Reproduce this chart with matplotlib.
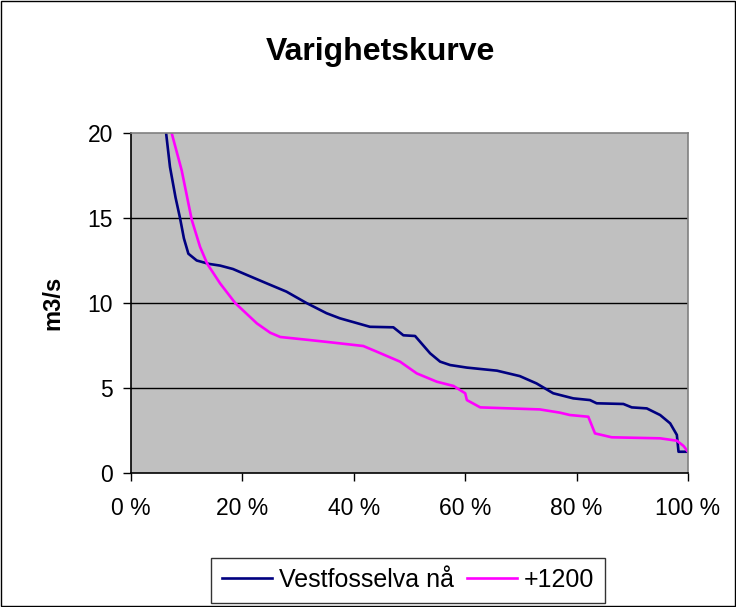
import matplotlib
matplotlib.use("Agg")
import matplotlib.pyplot as plt
from matplotlib.patches import Rectangle

plt.rcParams['font.family'] = ['Liberation Sans', 'DejaVu Sans']

title = "Varighetskurve"
ylabel = "m3/s"
series_names = ["Vestfosselva nå", "+1200"]
xticks = [0, 20, 40, 60, 80, 100]
xtick_labels = ["0 %", "20 %", "40 %", "60 %", "80 %", "100 %"]
yticks = [0, 5, 10, 15, 20]

vest_x = [6.3, 7.0, 8.0, 8.8, 9.5, 10.3, 11.8, 14.0, 16.0, 18.3, 20.8, 24.4, 27.9, 31.5, 35.1,
          37.5, 42.9, 47.1, 48.9, 51.0, 53.7, 55.5, 57.3, 60.3, 65.7, 69.8, 72.8, 75.8, 79.4,
          82.4, 83.6, 88.4, 89.9, 92.6, 95.0, 96.8, 98.0, 98.3, 99.8]
vest_y = [20.0, 18.0, 16.2, 15.0, 13.8, 12.9, 12.5, 12.3, 12.2, 12.0, 11.65, 11.15, 10.67, 10.0, 9.4,
          9.1, 8.6, 8.57, 8.1, 8.06, 7.04, 6.55, 6.35, 6.2, 6.02, 5.7, 5.27, 4.69, 4.39,
          4.29, 4.1, 4.06, 3.86, 3.8, 3.41, 2.92, 2.24, 1.25, 1.25]

plus_x = [7.3, 9.1, 10.9, 12.4, 13.7, 16.0, 18.7, 22.6, 25.0, 26.8, 32.1, 36.3, 41.7, 44.1, 48.3,
          51.3, 54.9, 57.9, 60.0, 60.3, 62.7, 68.0, 73.4, 77.0, 78.8, 82.1, 82.7, 83.3, 86.3,
          95.0, 98.0, 99.2, 100.0]
plus_y = [20.0, 17.8, 14.9, 13.3, 12.3, 11.15, 10.0, 8.8, 8.25, 8.0, 7.82, 7.67, 7.47, 7.14, 6.55,
          5.86, 5.37, 5.12, 4.69, 4.29, 3.86, 3.8, 3.74, 3.55, 3.41, 3.31, 2.82, 2.33, 2.1,
          2.04, 1.9, 1.59, 1.25]

fig = plt.figure(figsize=(7.36, 6.07), dpi=100)
fig.patch.set_facecolor('white')
fig.patches.append(Rectangle((0.002, 0.002), 0.996, 0.996, transform=fig.transFigure,
                             fill=False, edgecolor='black', linewidth=1.0))

ax = fig.add_axes([131/736, 1-473/607, (688-131)/736, (473-133)/607])
ax.set_facecolor('#C0C0C0')
ax.plot(vest_x, vest_y, color='#000080', linewidth=1.9, label=series_names[0])
ax.plot(plus_x, plus_y, color='#FF00FF', linewidth=1.9, label=series_names[1])

ax.set_xlim(0, 100)
ax.set_ylim(0, 20)
ax.set_xticks(xticks)
ax.set_xticklabels(xtick_labels)
ax.set_yticks(yticks)
ax.tick_params(axis='both', direction='out', length=6, width=1, labelsize=16.5)
ax.tick_params(axis='x', pad=11.5)
ax.tick_params(axis='y', pad=7)
for y in [5, 10, 15]:
    ax.axhline(y, color='black', linewidth=1.0, zorder=1)
ax.spines['left'].set_color('black')
ax.spines['bottom'].set_color('black')
ax.spines['top'].set_color('#808080')
ax.spines['right'].set_color('#808080')
for s in ax.spines.values():
    s.set_linewidth(1.2)

ax.set_ylabel(ylabel, fontsize=17, fontweight='bold')
ax.yaxis.set_label_coords(-(131-64)/(688-131), 0.5)
fig.text(380/736, 1-52/607, title, ha='center', va='center', fontsize=23, fontweight='bold')

leg = fig.legend(loc='center', bbox_to_anchor=(408/736, 1-580/607), ncol=2, fontsize=18,
                 frameon=True, fancybox=False, edgecolor='black', handlelength=2.0,
                 handletextpad=0.3, columnspacing=0.5, borderpad=0.42, borderaxespad=0)
leg.get_frame().set_linewidth(1.0)

fig.savefig("out.png", dpi=100)
